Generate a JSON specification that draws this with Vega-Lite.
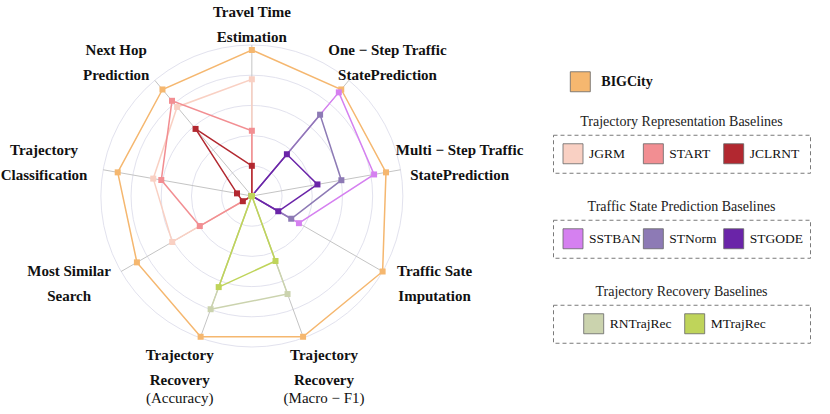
{
  "$schema": "https://vega.github.io/schema/vega-lite/v6.json",
  "padding": 0,
  "background": "white",
  "config": {"view": {"stroke": null}, "font": "Liberation Serif"},
  "datasets": {
    "scores": [
      {"model": "BIGCity", "group": "main", "TTE": 0.967, "OSP": 0.921, "MSP": 0.902, "TSI": 1.0, "TRF": 0.992, "TRA": 0.992, "MSS": 0.879, "TC": 0.902, "NHP": 0.921},
      {"model": "JGRM", "group": "rep", "TTE": 0.773, "OSP": 0, "MSP": 0, "TSI": 0, "TRF": 0, "TRA": 0, "MSS": 0.609, "TC": 0.663, "NHP": 0.770},
      {"model": "START", "group": "rep", "TTE": 0.432, "OSP": 0, "MSP": 0, "TSI": 0, "TRF": 0, "TRA": 0, "MSS": 0.398, "TC": 0.609, "NHP": 0.823},
      {"model": "JCLRNT", "group": "rep", "TTE": 0.200, "OSP": 0, "MSP": 0, "TSI": 0, "TRF": 0, "TRA": 0, "MSS": 0.069, "TC": 0.100, "NHP": 0.580},
      {"model": "SSTBAN", "group": "tsp", "TTE": 0, "OSP": 0.896, "MSP": 0.822, "TSI": 0.360, "TRF": 0, "TRA": 0, "MSS": 0, "TC": 0, "NHP": 0},
      {"model": "STNorm", "group": "tsp", "TTE": 0, "OSP": 0.703, "MSP": 0.602, "TSI": 0.301, "TRF": 0, "TRA": 0, "MSS": 0, "TC": 0, "NHP": 0},
      {"model": "STGODE", "group": "tsp", "TTE": 0, "OSP": 0.361, "MSP": 0.441, "TSI": 0.202, "TRF": 0, "TRA": 0, "MSS": 0, "TC": 0, "NHP": 0},
      {"model": "RNTrajRec", "group": "rec", "TTE": 0, "OSP": 0, "MSP": 0, "TSI": 0, "TRF": 0.691, "TRA": 0.798, "MSS": 0, "TC": 0, "NHP": 0},
      {"model": "MTrajRec", "group": "rec", "TTE": 0, "OSP": 0, "MSP": 0, "TSI": 0, "TRF": 0.458, "TRA": 0.642, "MSS": 0, "TC": 0, "NHP": 0}
    ],
    "tasks": [
      {"task": "TTE", "k": 0, "l": "Travel Time\nEstimation"},
      {"task": "OSP", "k": 1, "l": "One − Step Traffic\nStatePrediction"},
      {"task": "MSP", "k": 2, "l": "Multi − Step Traffic\nStatePrediction"},
      {"task": "TSI", "k": 3, "l": "Traffic Sate\nImputation"},
      {"task": "TRF", "k": 4, "l": "Trajectory\nRecovery", "sub": "(Macro − F1)"},
      {"task": "TRA", "k": 5, "l": "Trajectory\nRecovery", "sub": "(Accuracy)"},
      {"task": "MSS", "k": 6, "l": "Most Similar\nSearch"},
      {"task": "TC", "k": 7, "l": "Trajectory\nClassification"},
      {"task": "NHP", "k": 8, "l": "Next Hop\nPrediction"}
    ],
    "levels": [{"r": 0.2}, {"r": 0.4}, {"r": 0.6}, {"r": 0.8}, {"r": 1.0}]
  },
  "spacing": 11,
  "center": true,
  "hconcat": [
    {
      "width": 540,
      "height": 414,
      "layer": [
        {
          "data": {"name": "levels"},
          "transform": [{"calculate": "0", "as": "o"}],
          "mark": {"type": "point", "shape": "circle", "filled": false, "color": "#E2E2EE", "strokeWidth": 1, "opacity": 1},
          "encoding": {
            "x": {"field": "o", "type": "quantitative", "scale": {"domain": [-1.6613, 1.9149], "nice": false, "zero": false}, "axis": null},
            "y": {"field": "o", "type": "quantitative", "scale": {"domain": [-1.4437, 1.298], "nice": false, "zero": false}, "axis": null},
            "size": {"field": "r", "type": "quantitative", "scale": {"type": "pow", "exponent": 2, "domain": [0, 1], "range": [0, 91204]}, "legend": null}
          }
        },
        {
          "data": {"name": "tasks"},
          "transform": [
            {"calculate": "0", "as": "o"},
            {"calculate": "datum.k * 2 * PI / 9", "as": "th"},
            {"calculate": "sin(datum.th)", "as": "ax"},
            {"calculate": "cos(datum.th)", "as": "ay"}
          ],
          "mark": {"type": "rule", "color": "#C4C4C4", "strokeWidth": 1},
          "encoding": {
            "x": {"field": "o", "type": "quantitative", "scale": {"domain": [-1.6613, 1.9149], "nice": false, "zero": false}, "axis": null},
            "y": {"field": "o", "type": "quantitative", "scale": {"domain": [-1.4437, 1.298], "nice": false, "zero": false}, "axis": null},
            "x2": {"field": "ax"},
            "y2": {"field": "ay"}
          }
        },
        {
          "data": {"name": "scores"},
          "transform": [
            {"fold": ["TTE", "OSP", "MSP", "TSI", "TRF", "TRA", "MSS", "TC", "NHP"], "as": ["task", "v"]},
            {"lookup": "task", "from": {"data": {"name": "tasks"}, "key": "task", "fields": ["k"]}},
            {"calculate": "datum.k * 2 * PI / 9", "as": "th"},
            {"calculate": "datum.v * sin(datum.th)", "as": "px"},
            {"calculate": "datum.v * cos(datum.th)", "as": "py"}
          ],
          "layer": [
            {
              "mark": {"type": "line", "interpolate": "linear-closed", "strokeWidth": 1.5},
              "encoding": {
                "x": {"field": "px", "type": "quantitative", "scale": {"domain": [-1.6613, 1.9149], "nice": false, "zero": false}, "axis": null},
                "y": {"field": "py", "type": "quantitative", "scale": {"domain": [-1.4437, 1.298], "nice": false, "zero": false}, "axis": null},
                "color": {"field": "model", "type": "nominal", "scale": {"domain": ["BIGCity", "JGRM", "START", "JCLRNT", "SSTBAN", "STNorm", "STGODE", "RNTrajRec", "MTrajRec"], "range": ["#F5B76F", "#F9D0C3", "#F28E92", "#B22830", "#D580F0", "#8D7AB5", "#6A24A8", "#CBD3AE", "#BFD45A"]}, "legend": null},
                "detail": {"field": "model", "type": "nominal"},
                "order": {"field": "k", "type": "quantitative"}
              }
            },
            {
              "mark": {"type": "point", "shape": "square", "filled": true, "size": 36, "opacity": 1},
              "encoding": {
                "x": {"field": "px", "type": "quantitative", "scale": {"domain": [-1.6613, 1.9149], "nice": false, "zero": false}, "axis": null},
                "y": {"field": "py", "type": "quantitative", "scale": {"domain": [-1.4437, 1.298], "nice": false, "zero": false}, "axis": null},
                "color": {"field": "model", "type": "nominal", "scale": {"domain": ["BIGCity", "JGRM", "START", "JCLRNT", "SSTBAN", "STNorm", "STGODE", "RNTrajRec", "MTrajRec"], "range": ["#F5B76F", "#F9D0C3", "#F28E92", "#B22830", "#D580F0", "#8D7AB5", "#6A24A8", "#CBD3AE", "#BFD45A"]}, "legend": null}
              }
            }
          ]
        },
        {
          "data": {"name": "tasks"},
          "transform": [
            {"calculate": "datum.k * 2 * PI / 9", "as": "th"},
            {"calculate": "1.3974 * sin(datum.th)", "as": "lx"},
            {"calculate": "1.1742 * cos(datum.th) + 0.0596 * pow(sin(datum.th), 2) + 0.0444", "as": "ly"}
          ],
          "layer": [
            {
              "mark": {"type": "text", "align": "center", "baseline": "middle", "lineBreak": "\n", "lineHeight": 25, "font": "Liberation Serif", "fontSize": 15, "fontWeight": "bold", "color": "#111111"},
              "encoding": {
                "x": {"field": "lx", "type": "quantitative", "scale": {"domain": [-1.6613, 1.9149], "nice": false, "zero": false}, "axis": null},
                "y": {"field": "ly", "type": "quantitative", "scale": {"domain": [-1.4437, 1.298], "nice": false, "zero": false}, "axis": null},
                "text": {"field": "l", "type": "nominal"}
              }
            },
            {
              "transform": [{"filter": "datum.sub != null"}],
              "mark": {"type": "text", "align": "center", "baseline": "middle", "dy": 43, "font": "Liberation Serif", "fontSize": 15, "fontWeight": "normal", "color": "#111111"},
              "encoding": {
                "x": {"field": "lx", "type": "quantitative", "scale": {"domain": [-1.6613, 1.9149], "nice": false, "zero": false}, "axis": null},
                "y": {"field": "ly", "type": "quantitative", "scale": {"domain": [-1.4437, 1.298], "nice": false, "zero": false}, "axis": null},
                "text": {"field": "sub", "type": "nominal"}
              }
            }
          ]
        }
      ]
    },
    {
      "spacing": 20,
      "vconcat": [
        {
          "width": 257,
          "height": 22,
          "data": {"name": "scores"},
          "transform": [{"filter": "datum.group == 'main'"}],
          "layer": [
            {
              "mark": {"type": "point", "shape": "square", "filled": true, "size": 400, "stroke": "#666666", "strokeWidth": 0.8, "opacity": 1},
              "encoding": {
                "x": {"field": "model", "type": "nominal", "sort": null, "scale": {"type": "point", "range": [27.3, 27.3]}, "axis": null},
                "color": {"field": "model", "type": "nominal", "scale": {"domain": ["BIGCity", "JGRM", "START", "JCLRNT", "SSTBAN", "STNorm", "STGODE", "RNTrajRec", "MTrajRec"], "range": ["#F5B76F", "#F9D0C3", "#F28E92", "#B22830", "#D580F0", "#8D7AB5", "#6A24A8", "#CBD3AE", "#BFD45A"]}, "legend": null}
              }
            },
            {
              "mark": {"type": "text", "align": "left", "baseline": "middle", "dx": 21, "font": "Liberation Serif", "fontSize": 14, "fontWeight": "bold", "color": "#111111"},
              "encoding": {
                "x": {"field": "model", "type": "nominal", "sort": null, "scale": {"type": "point", "range": [27.3, 27.3]}, "axis": null},
                "text": {"field": "model", "type": "nominal"}
              }
            }
          ]
        },
        {
          "spacing": 25,
          "vconcat": [
            {
              "width": 257,
              "height": 38,
              "title": {"text": "Trajectory Representation Baselines", "font": "Liberation Serif", "fontSize": 14, "fontWeight": "normal", "color": "#222222", "offset": 6, "anchor": "middle"},
              "view": {"stroke": "#7A7A7A", "strokeDash": [4, 3], "strokeWidth": 1},
              "data": {"name": "scores"},
              "transform": [{"filter": "datum.group == 'rep'"}],
              "layer": [
                {
                  "mark": {"type": "point", "shape": "square", "filled": true, "size": 400, "stroke": "#666666", "strokeWidth": 0.8, "opacity": 1},
                  "encoding": {
                    "x": {"field": "model", "type": "nominal", "sort": null, "scale": {"type": "point", "padding": 0, "range": [20, 180.7]}, "axis": null},
                    "color": {"field": "model", "type": "nominal", "scale": {"domain": ["BIGCity", "JGRM", "START", "JCLRNT", "SSTBAN", "STNorm", "STGODE", "RNTrajRec", "MTrajRec"], "range": ["#F5B76F", "#F9D0C3", "#F28E92", "#B22830", "#D580F0", "#8D7AB5", "#6A24A8", "#CBD3AE", "#BFD45A"]}, "legend": null}
                  }
                },
                {
                  "mark": {"type": "text", "align": "left", "baseline": "middle", "dx": 16, "font": "Liberation Serif", "fontSize": 13.5, "color": "#111111"},
                  "encoding": {
                    "x": {"field": "model", "type": "nominal", "sort": null, "scale": {"type": "point", "padding": 0, "range": [20, 180.7]}, "axis": null},
                    "text": {"field": "model", "type": "nominal"}
                  }
                }
              ]
            },
            {
              "width": 257,
              "height": 38,
              "title": {"text": "Traffic State Prediction Baselines", "font": "Liberation Serif", "fontSize": 14, "fontWeight": "normal", "color": "#222222", "offset": 6, "anchor": "middle"},
              "view": {"stroke": "#7A7A7A", "strokeDash": [4, 3], "strokeWidth": 1},
              "data": {"name": "scores"},
              "transform": [{"filter": "datum.group == 'tsp'"}],
              "layer": [
                {
                  "mark": {"type": "point", "shape": "square", "filled": true, "size": 400, "stroke": "#666666", "strokeWidth": 0.8, "opacity": 1},
                  "encoding": {
                    "x": {"field": "model", "type": "nominal", "sort": null, "scale": {"type": "point", "padding": 0, "range": [20, 180.7]}, "axis": null},
                    "color": {"field": "model", "type": "nominal", "scale": {"domain": ["BIGCity", "JGRM", "START", "JCLRNT", "SSTBAN", "STNorm", "STGODE", "RNTrajRec", "MTrajRec"], "range": ["#F5B76F", "#F9D0C3", "#F28E92", "#B22830", "#D580F0", "#8D7AB5", "#6A24A8", "#CBD3AE", "#BFD45A"]}, "legend": null}
                  }
                },
                {
                  "mark": {"type": "text", "align": "left", "baseline": "middle", "dx": 16, "font": "Liberation Serif", "fontSize": 13.5, "color": "#111111"},
                  "encoding": {
                    "x": {"field": "model", "type": "nominal", "sort": null, "scale": {"type": "point", "padding": 0, "range": [20, 180.7]}, "axis": null},
                    "text": {"field": "model", "type": "nominal"}
                  }
                }
              ]
            },
            {
              "width": 257,
              "height": 38,
              "title": {"text": "Trajectory Recovery Baselines", "font": "Liberation Serif", "fontSize": 14, "fontWeight": "normal", "color": "#222222", "offset": 6, "anchor": "middle"},
              "view": {"stroke": "#7A7A7A", "strokeDash": [4, 3], "strokeWidth": 1},
              "data": {"name": "scores"},
              "transform": [{"filter": "datum.group == 'rec'"}],
              "layer": [
                {
                  "mark": {"type": "point", "shape": "square", "filled": true, "size": 400, "stroke": "#666666", "strokeWidth": 0.8, "opacity": 1},
                  "encoding": {
                    "x": {"field": "model", "type": "nominal", "sort": null, "scale": {"type": "point", "padding": 0, "range": [40.7, 141.7]}, "axis": null},
                    "color": {"field": "model", "type": "nominal", "scale": {"domain": ["BIGCity", "JGRM", "START", "JCLRNT", "SSTBAN", "STNorm", "STGODE", "RNTrajRec", "MTrajRec"], "range": ["#F5B76F", "#F9D0C3", "#F28E92", "#B22830", "#D580F0", "#8D7AB5", "#6A24A8", "#CBD3AE", "#BFD45A"]}, "legend": null}
                  }
                },
                {
                  "mark": {"type": "text", "align": "left", "baseline": "middle", "dx": 16, "font": "Liberation Serif", "fontSize": 13.5, "color": "#111111"},
                  "encoding": {
                    "x": {"field": "model", "type": "nominal", "sort": null, "scale": {"type": "point", "padding": 0, "range": [40.7, 141.7]}, "axis": null},
                    "text": {"field": "model", "type": "nominal"}
                  }
                }
              ]
            }
          ]
        }
      ]
    }
  ]
}
